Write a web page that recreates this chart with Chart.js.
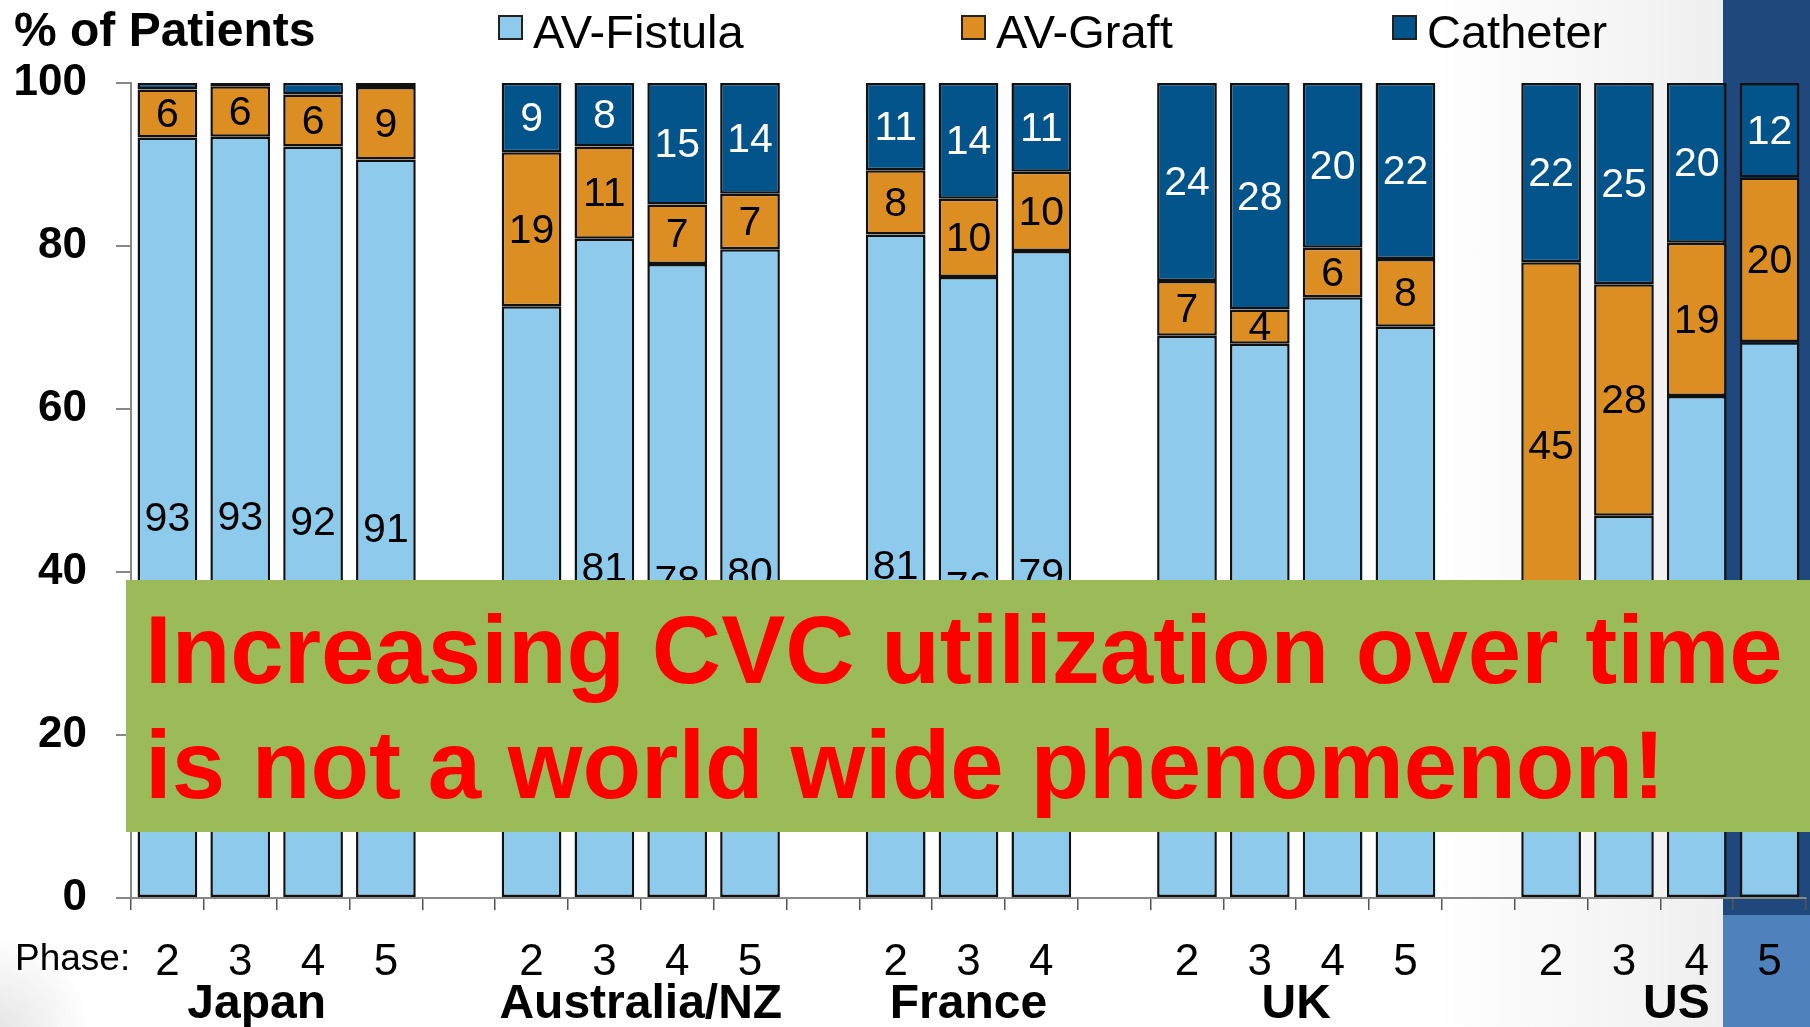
<!DOCTYPE html>
<html>
<head>
<meta charset="utf-8">
<script src="https://cdn.jsdelivr.net/npm/chart.js@4"></script>
<style>
  html, body { margin: 0; padding: 0; }
  body {
    width: 1810px; height: 1027px; overflow: hidden; position: relative;
    background:
      radial-gradient(circle at 0 100%, #e6e6e6 0px, rgba(255,255,255,0) 90px),
      linear-gradient(to right, #ffffff 0%, #ffffff 79%, #efefef 95%);
    font-family: "Liberation Sans", Arial, sans-serif;
  }
  #band { position: absolute; left: 1723px; top: 0; width: 87px; height: 915px; background: #1f497d; }
  #bandLow { position: absolute; left: 1723px; top: 915px; width: 87px; height: 112px; background: #4f81bd; }
  #wrap { position: absolute; left: 0; top: 0; width: 1810px; height: 1027px; }
  #note {
    position: absolute; left: 126px; top: 580px; width: 1684px; height: 252px;
    background: #9bbb59; color: #ff0000; box-sizing: border-box;
    padding: 12px 0 0 19px; font: bold 96px/115px "Liberation Sans", Arial, sans-serif;
    white-space: nowrap;
  }
</style>
</head>
<body>
<div id="band"></div>
<div id="bandLow"></div>
<div id="wrap"><canvas id="chart"></canvas></div>
<div id="note">Increasing CVC utilization over time<br>is not a world wide phenomenon!</div>
<script>
const ctx = document.getElementById("chart").getContext("2d");

// phases per country, blanks are the gaps between countries
const categories = ["2", "3", "4", "5", "", "2", "3", "4", "5", "", "2", "3", "4", "", "2", "3", "4", "5", "", "2", "3", "4", "5"];
const countries = ["Japan", "Australia/NZ", "France", "UK", "US"];
const countryFirst = [0, 5, 10, 14, 19];
const countryLast = [3, 8, 12, 17, 22];

const fistula = [93.3, 93.4, 92.2, 90.6, null, 72.6, 80.9, 77.8, 79.6, null, 81.4, 76.2, 79.4, null, 69.0, 68.0, 73.7, 70.1, null, 33.0, 46.9, 61.6, 68.2];
const graft = [5.9, 6.2, 6.4, 8.9, null, 18.9, 11.3, 7.3, 6.8, null, 7.9, 9.6, 9.7, null, 6.7, 4.2, 6.1, 8.3, null, 45.0, 28.4, 18.8, 20.2];
const catheter = [0.8, 0.4, 1.4, 0.5, null, 8.5, 7.8, 14.9, 13.6, null, 10.7, 14.2, 10.9, null, 24.3, 27.8, 20.2, 21.6, null, 22.0, 24.7, 19.6, 11.6];

const yTicks = [0, 20, 40, 60, 80, 100];

const seriesNames = ["AV-Fistula", "AV-Graft", "Catheter"];
const seriesColors = ["#8ecaeb", "#dc8e22", "#03548b"];
const labelColors = ["#000000", "#000000", "#ffffff"];

// header and footer text placement
const legendX = [499, 962, 1393];
const countryNudge = [-20, 0, 0, 0, 16];

const fontName = '"Liberation Sans", Arial, sans-serif';

const valueLabels = {
    id: "valueLabels",
    afterDatasetsDraw(chart) {
        const c = chart.ctx;
        c.save();
        c.font = "41px " + fontName;
        c.textAlign = "center";
        c.textBaseline = "middle";
        chart.data.datasets.forEach((ds, i) => {
            chart.getDatasetMeta(i).data.forEach((bar, j) => {
                const v = ds.data[j];
                if (v == null || v < 3) return;
                c.fillStyle = labelColors[i];
                c.fillText(String(Math.round(v)), bar.x, (bar.y + bar.base) / 2 + 2);
            });
        });
        c.restore();
    }
};

const extraText = {
    id: "extraText",
    afterDraw(chart) {
        const c = chart.ctx;
        const xs = chart.scales.x;
        c.save();
        c.fillStyle = "#000";
        c.textBaseline = "alphabetic";

        // title
        c.textAlign = "left";
        c.font = "bold 48px " + fontName;
        c.fillText("% of Patients", 14, 46);

        // legend
        c.font = "47px " + fontName;
        seriesNames.forEach((name, i) => {
            c.fillStyle = seriesColors[i];
            c.fillRect(legendX[i], 16, 23, 23);
            c.strokeStyle = "#222";
            c.lineWidth = 2;
            c.strokeRect(legendX[i], 16, 23, 23);
            c.fillStyle = "#000";
            c.fillText(name, legendX[i] + 34, 48);
        });

        // phase caption
        c.font = "37px " + fontName;
        c.fillText("Phase:", 15, 970);

        // country names under each group
        c.font = "bold 48px " + fontName;
        c.textAlign = "center";
        countries.forEach((name, i) => {
            const x = (xs.getPixelForValue(countryFirst[i]) + xs.getPixelForValue(countryLast[i])) / 2;
            c.fillText(name, x + countryNudge[i], 1018);
        });
        c.restore();
    }
};

function makeSet(label, data, i) {
    return {
        label: label,
        data: data,
        backgroundColor: seriesColors[i],
        borderColor: "#111111",
        borderWidth: 2.5,
        borderSkipped: false,
        categoryPercentage: 1,
        barPercentage: 0.82
    };
}

new Chart(ctx, {
    type: "bar",
    data: {
        labels: categories,
        datasets: [
            makeSet(seriesNames[0], fistula, 0),
            makeSet(seriesNames[1], graft, 1),
            makeSet(seriesNames[2], catheter, 2)
        ]
    },
    options: {
        responsive: true,
        maintainAspectRatio: false,
        animation: false,
        layout: { padding: { top: 83, right: 4, left: 0, bottom: 0 } },
        plugins: {
            legend: { display: false },
            title: { display: false },
            tooltip: { enabled: false }
        },
        scales: {
            x: {
                stacked: true,
                grid: { drawOnChartArea: false, offset: true, tickLength: 12, color: "#555", lineWidth: 1.5 },
                border: { color: "#888", width: 2 },
                ticks: { color: "#000", font: { family: fontName, size: 44 }, padding: 26, autoSkip: false, maxRotation: 0 },
                afterFit(scale) { scale.height = 129; }
            },
            y: {
                stacked: true,
                min: 0,
                max: 100,
                afterBuildTicks(scale) { scale.ticks = yTicks.map(v => ({ value: v })); },
                grid: { drawOnChartArea: false, tickLength: 15, color: "#888", lineWidth: 2 },
                border: { color: "#888", width: 2 },
                ticks: { color: "#000", font: { family: fontName, size: 44, weight: "bold" }, padding: 29 },
                afterFit(scale) { scale.width = 131; }
            }
        }
    },
    plugins: [valueLabels, extraText]
});
</script>
</body>
</html>
